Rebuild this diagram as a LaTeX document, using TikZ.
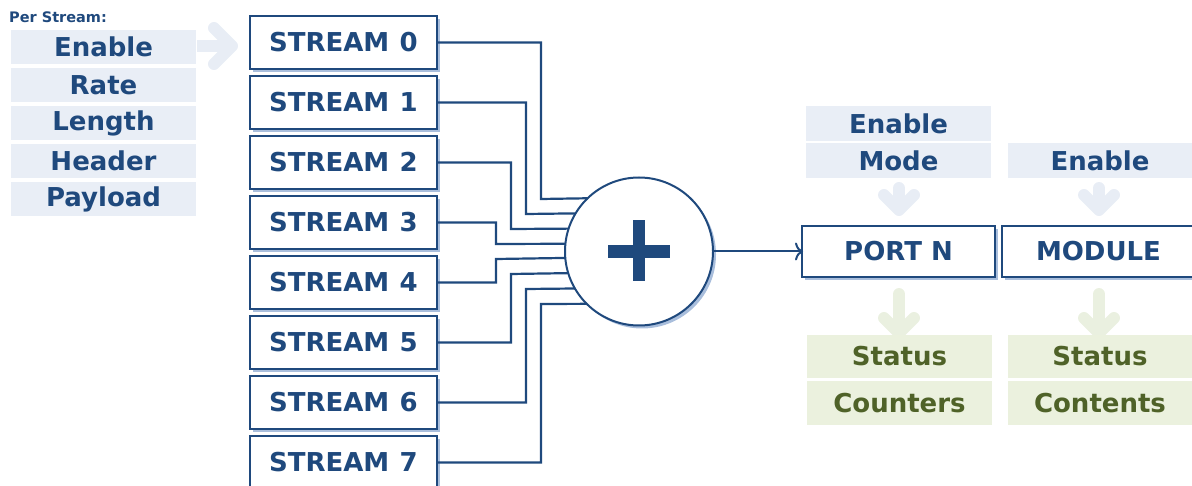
\documentclass[tikz,border=0pt]{standalone}
\usepackage{fontspec}
\setmainfont{DejaVu Sans}
\usetikzlibrary{shadows,arrows.meta,calc}
\definecolor{dblue}{HTML}{1F497D}
\definecolor{lblue}{HTML}{E9EEF6}
\definecolor{sblue}{HTML}{A9BEDC}
\definecolor{lgreen}{HTML}{EBF1DE}
\definecolor{dgreen}{HTML}{4F6228}
\definecolor{agreen}{HTML}{EAF0E0}
\definecolor{ablue}{HTML}{E8EDF5}
\tikzset{
  big/.style={font=\fontsize{26}{30}\selectfont\bfseries},
  streambox/.style={draw=dblue, line width=2.2pt, fill=white, minimum width=187pt, minimum height=53pt,
     inner sep=0pt, outer sep=0pt, text=dblue, big,
     general shadow={fill=sblue, shadow xshift=3pt, shadow yshift=-3pt}},
  parambox/.style={fill=lblue, minimum width=185pt, minimum height=34pt, inner sep=0pt, text=dblue, big},
  resbox/.style={fill=lgreen, minimum width=185pt, inner sep=0pt, text=dgreen, big},
  conn/.style={draw=dblue, line width=2.2pt},
  fatblue/.style={draw=ablue, line width=12pt, line join=round, line cap=round},
  fatgreen/.style={draw=agreen, line width=12pt, line join=round, line cap=round},
}
\begin{document}
\begin{tikzpicture}[x=1pt,y=-1pt]
\useasboundingbox (0,0) rectangle (1192,486);
\clip (0,0) rectangle (1192,486);
% left parameters
\node[anchor=base west, text=dblue, font=\fontsize{14.5}{17}\selectfont\bfseries, inner sep=0pt] (per) at (9,22.5) {Per Stream:};
\node[parambox] (pe) at (103.5,47) {Enable};
\node[parambox] (pr) at (103.5,85) {Rate};
\node[parambox] (pl) at (103.5,123) {Length};
\node[parambox] (ph) at (103.5,161) {Header};
\node[parambox] (pp) at (103.5,199) {Payload};
% light arrow
\draw[draw=ablue, line width=12pt] (197,46) -- (228,46);
\draw[fatblue] (214,28) -- (232,46) -- (214,64);
% streams
\foreach \k in {0,...,7}{
  \node[streambox] (s\k) at (343.5,{42.5+60*\k}) {STREAM\hspace{0.4em}\k};
}
% summing circle
\node[circle, draw=dblue, line width=2pt, fill=white, minimum size=148pt, inner sep=0pt, outer sep=0pt,
  general shadow={fill=sblue, shadow xshift=3pt, shadow yshift=-3pt}] (plus) at (639,251.5) {};
\fill[dblue] ($(plus.center)+(-6,-31)$) rectangle ($(plus.center)+(6,30)$);
\fill[dblue] ($(plus.center)+(-31,-6.5)$) rectangle ($(plus.center)+(31,6.5)$);
% connectors
\foreach \k/\x in {0/541,1/526,2/511,3/496,4/496,5/511,6/526,7/541}{
  \pgfmathsetmacro{\d}{52.5-15*\k}
  \pgfmathsetmacro{\a}{180-asin(\d/74)}
  \draw[conn] (s\k.east) -| (\x,{251.5-\d}) -- (plus.\a);
}
% port & module
\node[streambox, minimum width=193pt, minimum height=51pt] (port) at (898.5,251.5) {PORT N};
\node[streambox, minimum width=193pt, minimum height=51pt] (module) at (1098.5,251.5) {MODULE};
\draw[conn, line width=2pt, -{To[length=8pt,width=18pt,line width=2pt]}, shorten >=-1pt] (plus.east) -- (port.west);
% port params
\node[parambox, minimum height=35pt] (pen) at (898.5,123.5) {Enable};
\node[parambox, minimum height=35pt] (pmo) at (898.5,160.5) {Mode};
\node[parambox, minimum height=35pt] (men) at (1100,160.5) {Enable};
% down arrows light
\draw[fatblue] (899,188) -- (899,208);
\draw[fatblue] (884,195) -- (899,210) -- (914,195);
\draw[fatblue] (1099,188) -- (1099,208);
\draw[fatblue] (1084,195) -- (1099,210) -- (1114,195);
% down arrows green
\draw[fatgreen] (899,294) -- (899,330);
\draw[fatgreen] (884,318) -- (899,333) -- (914,318);
\draw[fatgreen] (1099,294) -- (1099,330);
\draw[fatgreen] (1084,318) -- (1099,333) -- (1114,318);
% results
\node[resbox, minimum height=43pt] (pst) at (899.5,356.5) {Status};
\node[resbox, minimum height=44pt] (pco) at (899.5,403) {Counters};
\node[resbox, minimum height=43pt] (mst) at (1100,356.5) {Status};
\node[resbox, minimum height=44pt] (mco) at (1100,403) {Contents};
\end{tikzpicture}
\end{document}
